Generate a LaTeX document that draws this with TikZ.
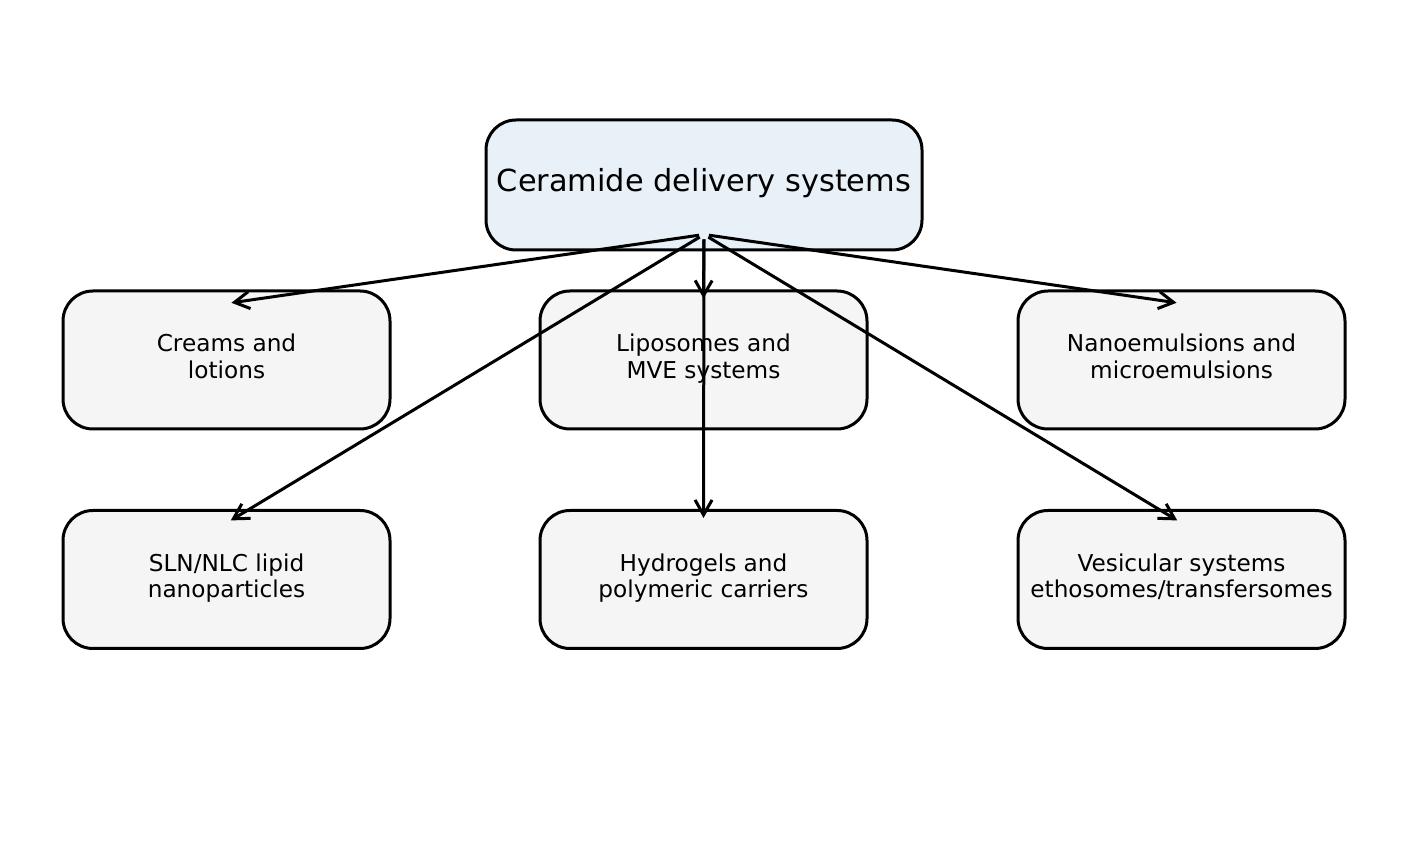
\documentclass[tikz,border=0pt]{standalone}
\usepackage{fontspec}
\setmainfont{DejaVu Sans}
\usetikzlibrary{arrows.meta, positioning, calc}
\definecolor{rootblue}{RGB}{232,241,248}
\definecolor{boxgray}{RGB}{245,245,245}

\begin{document}
\begin{tikzpicture}[x=1pt, y=1pt,
  box/.style={draw, line width=3pt, rounded corners=30pt, fill=boxgray,
    minimum width=327pt, minimum height=138pt, inner sep=0pt,
    align=center, font=\fontsize{23.2}{26.5}\selectfont,
    execute at begin node=\strut, execute at end node=\strut},
  rootbox/.style={box, fill=rootblue, minimum width=436pt, minimum height=130pt,
    font=\fontsize{30.4}{35}\selectfont},
  link/.style={-{Straight Barb[length=15pt, width=17pt]}, line width=3pt,
    shorten >=5pt, shorten <=5pt}]
  \useasboundingbox (0,0) rectangle (1407,858);
  % root
  \node[rootbox] (root) at (704,673) {Ceramide delivery systems};
  % first row
  \node[box] (creams) at (226.5,498) {Creams and\\lotions};
  \node[box] (lipo) at (703.5,498) {Liposomes and\\MVE systems};
  \node[box] (nano) at (1181.5,498) {Nanoemulsions and\\microemulsions};
  % second row
  \node[box] (sln) at (226.5,278.5) {SLN/NLC lipid\\nanoparticles};
  \node[box] (hydro) at (703.5,278.5) {Hydrogels and\\polymeric carriers};
  \node[box] (vesi) at (1181.5,278.5) {Vesicular systems\\ethosomes/transfersomes};
  % arrows
  \coordinate (src) at ($(root.south)+(0,17)$);
  \foreach \t in {creams, lipo, nano, sln, hydro, vesi} {
    \coordinate (\t-in) at ($(\t.north)+(0,-14)$);
    \draw[link] (src) -- (\t-in);
  }
\end{tikzpicture}
\end{document}
